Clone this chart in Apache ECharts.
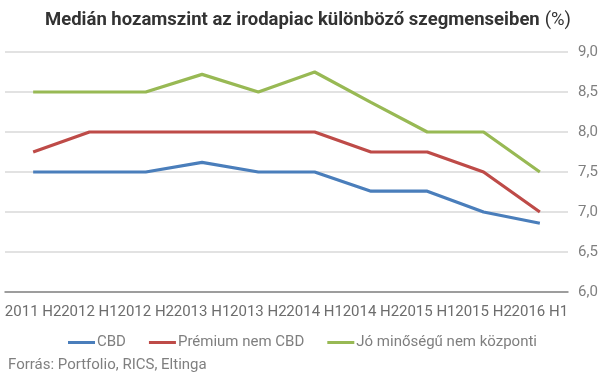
<!DOCTYPE html>
<html><head><meta charset="utf-8">
<script src="https://cdn.jsdelivr.net/npm/echarts@6/dist/echarts.min.js"></script>
<style>html,body{margin:0;padding:0;background:#fff}#c{width:605px;height:379px}</style>
</head><body><div id="c"></div>
<script>
const categories = ["2011 H2","2012 H1","2012 H2","2013 H1","2013 H2","2014 H1","2014 H2","2015 H1","2015 H2","2016 H1"];
const cbd = [7.5,7.5,7.5,7.62,7.5,7.5,7.26,7.26,7.0,6.86];
const premium = [7.75,8.0,8.0,8.0,8.0,8.0,7.75,7.75,7.5,7.0];
const jo = [8.5,8.5,8.5,8.72,8.5,8.75,8.37,8.0,8.0,7.5];
const seriesNames = ["CBD","Prémium nem CBD","Jó minőségű nem központi"];
const colors = ["#4a7ebb","#be4b48","#98b954"];
const font = "Roboto";
const chart = echarts.init(document.getElementById('c'));
chart.setOption({
  animation:false,
  color:colors,
  title:{
    text:"{b|Medián hozamszint az irodapiac különböző szegmenseiben} {n|(%)}",
    left:40, top:6,
    textStyle:{rich:{
      b:{fontFamily:font,fontWeight:'bold',fontSize:18.5,color:'#333'},
      n:{fontFamily:font,fontWeight:'normal',fontSize:18.5,color:'#333'}
    }}
  },
  graphic:[{type:'text',left:8,top:358,style:{text:"Forrás: Portfolio, RICS, Eltinga",fontFamily:font,fontSize:15,fill:'#7f7f7f'}}],
  legend:{
    data:seriesNames, top:330, left:'center',
    itemWidth:27, itemHeight:3, itemGap:23,
    icon:'rect',
    textStyle:{fontFamily:font,fontSize:15,color:'#7f7f7f',padding:[0,0,0,-3]}
  },
  grid:{left:5,right:37,top:52,bottom:87},
  xAxis:{
    type:'category', data:categories, boundaryGap:true,
    axisLine:{lineStyle:{color:'#868686',width:1.5}},
    axisTick:{show:false},
    axisLabel:{interval:0,fontFamily:font,fontSize:15,color:'#6d6d6d',margin:13,hideOverlap:false}
  },
  yAxis:{
    type:'value', position:'right', min:6, max:9, interval:0.5,
    axisLine:{show:false}, axisTick:{show:false},
    splitLine:{lineStyle:{color:'#d9d9d9',width:1.5}},
    axisLabel:{fontFamily:font,fontSize:15,color:'#7f7f7f',margin:10,
      formatter:v=>v.toFixed(1).replace('.',',')}
  },
  series:[
    {name:seriesNames[0],type:'line',data:cbd,symbol:'none',lineStyle:{width:3.2}},
    {name:seriesNames[1],type:'line',data:premium,symbol:'none',lineStyle:{width:3.2}},
    {name:seriesNames[2],type:'line',data:jo,symbol:'none',lineStyle:{width:3.2}}
  ]
});
</script></body></html>
